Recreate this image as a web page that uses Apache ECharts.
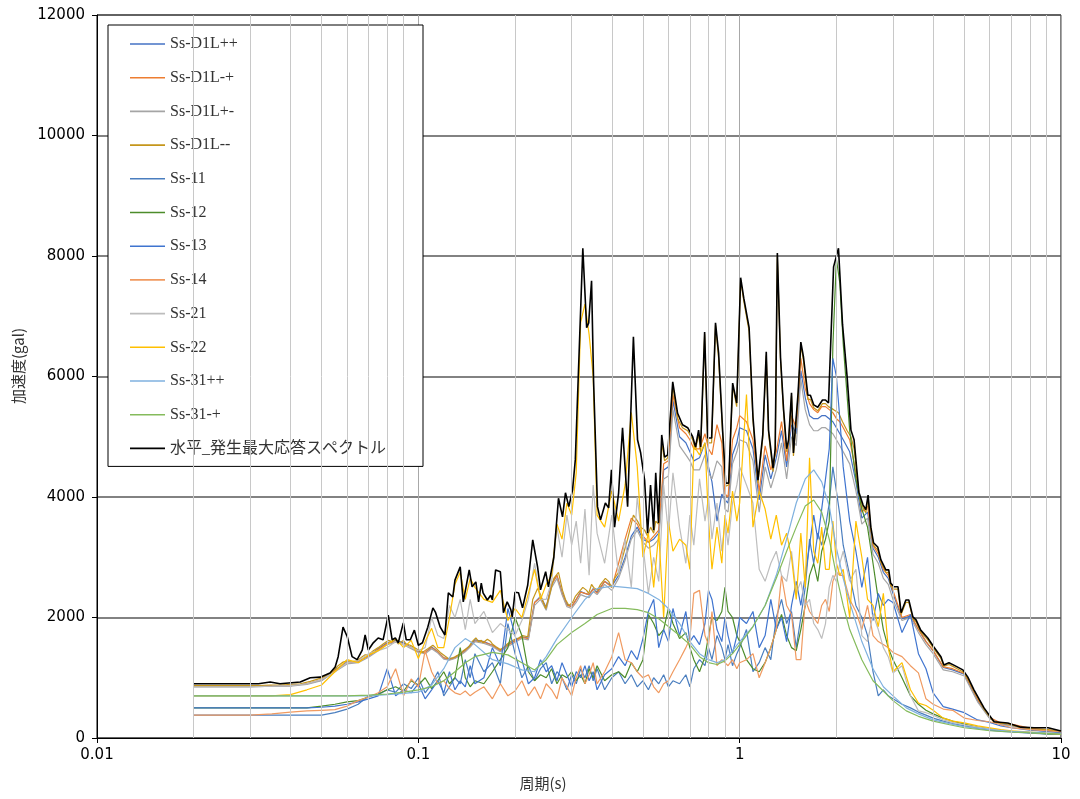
<!DOCTYPE html>
<html lang="ja">
<head>
<meta charset="utf-8">
<title>応答スペクトル</title>
<script src="https://cdn.jsdelivr.net/npm/echarts@6/dist/echarts.min.js"></script>
<style>
  html, body { margin: 0; padding: 0; background: #fff; }
  #chart { width: 1080px; height: 799px; }
</style>
</head>
<body>
<div id="chart"></div>
<script>
// 周期 (s) - 各波形で共通
const periods = [
  0.02, 0.03, 0.035, 0.04, 0.045, 0.05, 0.055, 0.06, 0.065, 0.07, 0.075, 0.08, 0.085, 0.09, 0.095, 0.1,
  0.105, 0.11, 0.115, 0.12, 0.125, 0.13, 0.135, 0.14, 0.145, 0.15,
  0.16, 0.17, 0.18, 0.19, 0.2, 0.21, 0.22, 0.23, 0.24, 0.25, 0.26, 0.27, 0.28, 0.29, 0.3, 0.31, 0.32, 0.33, 0.34, 0.35, 0.36,
  0.38, 0.4, 0.42, 0.44, 0.46, 0.48, 0.5, 0.52, 0.54, 0.56, 0.58, 0.6, 0.62,
  0.65, 0.68, 0.7, 0.72, 0.75, 0.78, 0.8, 0.82, 0.85, 0.88, 0.9, 0.92, 0.95, 0.98, 1.0,
  1.05, 1.1, 1.15, 1.2, 1.25, 1.3, 1.35, 1.4, 1.45, 1.5, 1.55, 1.6, 1.65, 1.7, 1.75, 1.8, 1.85, 1.9, 1.95, 2.0, 2.05, 2.1,
  2.2, 2.3, 2.4, 2.5, 2.6, 2.7, 2.8, 2.9, 3.0,
  3.2, 3.4, 3.6, 3.8, 4.0,
  4.3, 4.6, 5.0, 5.5, 6.0, 6.5, 7.0, 8.0, 9.0, 10
]

const d1lPP = [
  860, 860, 860, 870, 900, 960, 1130, 1260, 1270, 1360, 1480, 1580, 1620, 1580, 1500, 1440,
  1420, 1510, 1430, 1330, 1310, 1340, 1390, 1460, 1540, 1630,
  1600, 1540, 1450, 1550, 1620, 1680, 1660, 2250, 2350, 2170, 2560, 2700, 2420, 2220, 2180, 2300, 2430, 2400, 2380, 2480, 2420,
  2600, 2520, 2700, 3000, 3350, 3500, 3300, 3250, 3300, 3400, 4450, 4500, 5600,
  5000, 4900, 4750, 4600, 4650, 4900, 4500, 4250, 3600, 4050, 3950, 3900, 4700, 4900, 5150,
  5100, 4800, 3950, 4700, 4300, 4650, 5100, 4500, 5200, 5050, 6100, 5650, 5350, 5300, 5300, 5350, 5350, 5300, 5250, 5150, 5050, 4950,
  4750, 4250, 3650, 3750, 3150, 3000, 2750, 2650, 2400,
  1980, 2030, 1800, 1600, 1450,
  1170, 1130, 1060, 620, 330, 235, 210, 150, 125, 95
]
const d1lMP = [
  860, 860, 870, 870, 900, 970, 1120, 1250, 1270, 1360, 1470, 1570, 1600, 1560, 1500, 1430,
  1420, 1500, 1430, 1330, 1300, 1330, 1380, 1450, 1520, 1610,
  1590, 1540, 1450, 1540, 1610, 1670, 1650, 2250, 2330, 2150, 2550, 2700, 2400, 2200, 2180, 2300, 2420, 2400, 2380, 2470, 2400,
  2600, 2500, 2900, 3300, 3650, 3550, 3350, 3250, 3350, 3450, 4550, 4600, 5700,
  5150, 5050, 4950, 4800, 4800, 5050, 4800, 4700, 5200, 4900, 4050, 4000, 4950, 5150, 5350,
  5250, 4950, 4100, 4850, 4450, 4750, 5250, 4600, 5350, 5150, 6300, 5800, 5550, 5450, 5400, 5500, 5500, 5450, 5400, 5300, 5250, 5150,
  4950, 4400, 3750, 3850, 3200, 3050, 2800, 2700, 2450,
  2000, 2050, 1800, 1600, 1450,
  1180, 1150, 1070, 640, 340, 250, 230, 165, 135, 105
]
const d1lPM = [
  850, 850, 860, 860, 890, 950, 1100, 1230, 1250, 1340, 1450, 1550, 1590, 1550, 1480, 1420,
  1400, 1480, 1410, 1310, 1290, 1320, 1370, 1430, 1510, 1600,
  1570, 1520, 1430, 1520, 1590, 1650, 1630, 2200, 2300, 2120, 2500, 2650, 2380, 2180, 2150, 2250, 2380, 2350, 2330, 2430, 2380,
  2550, 2450, 2650, 2950, 3300, 3450, 3250, 3150, 3200, 3300, 4300, 4350, 5450,
  4850, 4700, 4600, 4450, 4450, 4700, 4400, 4300, 4600, 4500, 3800, 3750, 4550, 4750, 4950,
  4900, 4600, 3750, 4500, 4150, 4450, 4900, 4300, 5000, 4850, 5950, 5450, 5200, 5100, 5100, 5150, 5150, 5100, 5050, 4950, 4850, 4750,
  4550, 4100, 3550, 3650, 3050, 2900, 2650, 2550, 2300,
  1950, 2000, 1750, 1550, 1400,
  1130, 1100, 1030, 600, 320, 225, 200, 140, 115, 90
]
const ss11 = [
  380, 380, 380, 380, 380, 380, 420, 480, 560, 700, 720, 800, 760, 900, 820, 1000,
  750, 900, 1100, 700, 850, 1000, 900, 1300, 1000, 1400,
  1100, 1250, 900, 1900, 1400, 1000, 1200, 950, 1150, 1250, 900, 1100, 1000, 800, 1050, 900, 1150, 1000, 1200, 950, 1150,
  800, 1000, 1100, 900, 1050, 850, 950, 800, 1000, 900, 1050, 850, 950,
  900, 1050, 850, 1150, 1300, 1200, 1500, 1300, 1700, 1500, 1300, 1550, 1200, 1400, 1500,
  1800, 1100, 1250, 1500, 1300, 2000, 2300, 1900, 2100, 1500, 2000, 2500, 3300, 2900, 3400, 3200, 3500, 3900, 4500, 4100, 3700, 3200,
  2700, 2200, 2000, 1700, 1100, 700, 800, 700, 650,
  560, 500, 430, 380, 330,
  280, 240, 200, 160, 130, 110, 100, 80, 70, 60
]
const ss12 = [
  500, 500, 500, 500, 500, 530, 560, 600, 620, 680, 730, 800, 850, 780, 950, 880,
  1000, 820, 950, 1100, 900, 1000, 1500, 1000, 850, 950,
  900, 1100, 1300, 1500, 2000, 1700, 1100, 950, 1050, 1000, 1150, 900, 1050, 1000, 1100, 950, 1050, 900, 1150, 1000, 1200,
  950, 1050, 1100, 1000, 1250, 1100, 1300, 2050, 1900, 1700, 1800, 2150, 1900,
  1650, 1750, 1500, 1300, 1100, 1350, 1700, 2000, 1950, 2100, 2500, 2100, 2000, 1700, 1600,
  1300, 1150, 1100, 1250, 1500, 1800, 2050, 1700, 1500, 1450, 1800, 2200, 2700, 2900, 2600, 3100, 3300, 3600, 6500, 7950, 7550, 6550,
  5100, 4300, 3800, 3500, 2900, 2300, 1800, 1500, 1300,
  1000, 700, 560, 460, 400,
  330, 280, 230, 180, 150, 120, 110, 90, 70, 60
]
const ss13 = [
  500, 500, 500, 500, 500, 510, 530, 560, 600, 650, 700, 1150, 700, 800, 750, 900,
  650, 800, 950, 750, 1100, 800, 950, 850, 1200, 900,
  1000, 1500, 1200, 2150, 1700, 1300, 900, 1000, 1300, 1100, 1200, 950, 1250, 1050, 850, 1100, 1000, 1200, 950, 1100, 800,
  1050, 1150, 1350, 1200, 1450, 1300, 1650, 2100, 2300, 1500, 1800, 1600, 2150,
  1700, 2100, 1600, 1700, 1550, 1900, 2450, 2300, 1800, 1600, 2000, 1700, 1400, 1700, 2000,
  1900, 2100, 1500, 1700, 2300, 1800, 2000, 1600, 2200, 2600, 2200, 2700, 3200, 3700, 3300, 3800, 4300, 4800, 6300, 6000, 5300, 4500,
  3600, 3100, 2500, 3000, 1950, 2400, 2200, 2300, 2250,
  1750, 2050, 1400, 1150, 750,
  520, 480, 420, 300, 260, 200, 170, 130, 110, 90
]
const ss14 = [
  380, 380, 400, 430, 450, 460, 470, 530, 620, 680, 750, 850, 1150, 700, 980, 850,
  1450, 1100, 900, 950, 820, 750, 720, 780, 700, 760,
  850, 650, 900, 700, 780, 950, 700, 850, 650, 900, 800, 650, 1000, 850, 700, 1000, 1200, 900, 1050, 1250, 900,
  1100, 1350, 1750, 1300, 1250, 1100, 1000, 1050, 850, 750, 900, 950, 1100,
  1300, 1500, 1650, 2400, 2450, 1700, 1550, 2100, 1200, 1300, 1250, 1200, 1300, 1150, 1250,
  1300, 1400, 1000, 1250, 1500, 1800, 2700, 2200, 2050, 1300, 1300, 2300, 2100, 2000, 1900, 2200, 2300, 2100, 2600, 2750, 2700, 2700,
  2300, 2100, 1800, 2200, 1700, 1600, 1550, 1500, 1420,
  1350, 1200, 1080, 650, 560,
  480, 460, 330, 290, 270, 220, 170, 140, 120, 100
]
const ss21 = [
  850, 850, 860, 870, 900, 970, 1100, 1250, 1280, 1400, 1450, 1500, 1600, 1550, 1500, 1450,
  1500, 2000, 1700, 1650, 2200, 2000, 2300, 1800, 2300, 1900,
  2100, 1750, 1900, 1800, 1700, 1950, 2300, 2900, 2300, 2300, 2600, 3500, 3000, 3700, 3200, 3600, 2900, 3800, 2700, 4200, 3400,
  2900, 3700, 2700, 3300, 2500, 4000, 3200, 2400, 3000, 2600, 4200, 3400, 4400,
  3500, 2900, 3700, 3200, 4300, 3600, 4000, 3300, 3900, 3100, 3600, 3200, 3900, 4200, 4500,
  4200, 3900, 2800, 2600, 2900, 3100, 2700, 2600, 3100, 2400, 2600, 2200, 2300, 1900, 1800, 1650, 1900, 2500, 2700, 2600, 2900, 3100,
  2600, 2800, 1700, 1600, 2050, 1800, 1500, 1350, 1080,
  1200, 700, 450, 420, 380,
  300, 260, 220, 180, 150, 130, 110, 90, 75, 65
]
const ss22 = [
  700, 700, 700, 720, 800, 880, 1100, 1300, 1250, 1380, 1450, 1550, 1650, 1500, 1620, 1320,
  1600, 1820, 1500, 1500, 2000, 2550, 2750, 2300, 2650, 2500,
  2300, 2250, 2450, 1950, 2150, 2000, 2400, 2800, 2300, 2550, 2700, 3550, 3300, 3900, 3700, 4400, 6900, 7200, 6700, 6000, 3700,
  3500, 4100, 3600, 4200, 5400, 4500, 3000, 3400, 2500, 3400, 2000, 3600, 3100,
  3300, 3200, 2800, 4850, 4700, 4900, 3600, 2800, 3500, 2900, 3700, 3400, 4100, 3600, 3900,
  5700, 3500, 4100, 3800, 3300, 3700, 3200, 3400, 3000, 2300, 3400, 2500, 4650, 3100, 2900, 3500, 2800, 2800, 3600, 2900, 2700, 2800,
  2000, 3600, 3000, 2300, 2200, 1850, 2400, 1500, 1100,
  1250, 800, 580, 540, 460,
  330, 280, 250, 200, 170, 140, 120, 100, 80, 70
]

// 周期 (s) - なめらかな波形 (Ss-31)
const periodsSmooth = [
  0.02, 0.04, 0.06, 0.07, 0.08, 0.09, 0.1, 0.11, 0.12, 0.13, 0.14, 0.15,
  0.17, 0.19, 0.21, 0.23, 0.25, 0.27, 0.3, 0.33, 0.36,
  0.4, 0.44, 0.48, 0.52, 0.56, 0.6, 0.65, 0.7, 0.75, 0.8, 0.85, 0.9, 0.95, 1.0,
  1.1, 1.2, 1.3, 1.4, 1.5, 1.6, 1.7, 1.8, 1.9, 2.0, 2.1, 2.2,
  2.4, 2.6, 2.8, 3.0, 3.3, 3.6, 4.0, 4.5, 5.0, 6.0, 7.0, 8.5, 10
]
const ss31PP = [
  700, 700, 700, 700, 720, 740, 760, 880, 1150, 1500, 1650, 1550,
  1300, 1230, 1130, 1100, 1350, 1650, 2000, 2300, 2480,
  2520, 2500, 2480, 2400, 2300, 2150, 1900, 1600, 1400, 1300, 1250, 1300, 1450, 1600,
  1850, 2200, 2700, 3300, 3900, 4300, 4450, 4250, 3850, 3150, 2650, 2250,
  1600, 1150, 850, 700, 500, 400, 300, 240, 190, 140, 110, 90, 75
]
const ss31MP = [
  700, 700, 700, 710, 730, 760, 800, 850, 950, 1100, 1250, 1350,
  1420, 1380, 1250, 1130, 1300, 1550, 1750, 1900, 2050,
  2150, 2150, 2130, 2080, 1980, 1850, 1700, 1550, 1350, 1250, 1220, 1280, 1400, 1550,
  1850, 2200, 2650, 3100, 3500, 3850, 3950, 3750, 3300, 2700, 2200, 1800,
  1300, 950, 780, 620, 450, 360, 280, 220, 170, 120, 100, 80, 65
]

// 水平_発生最大応答スペクトル (包絡) と Ss-D1L-- は細かい周期で読む
const envPeriods = [
  0.02, 0.0318, 0.0346, 0.0371, 0.0429, 0.0461, 0.0495, 0.0531, 0.0551, 0.0563,
  0.0583, 0.0601, 0.0622, 0.0645, 0.0669, 0.0683, 0.0699, 0.0724, 0.075, 0.0777,
  0.0806, 0.0829, 0.0848, 0.0866, 0.0898, 0.0917, 0.0944, 0.0972, 0.1, 0.103,
  0.107, 0.111, 0.113, 0.117, 0.121, 0.124, 0.128, 0.130, 0.135, 0.138,
  0.144, 0.147, 0.151, 0.154, 0.157, 0.159, 0.164, 0.168, 0.170, 0.174,
  0.180, 0.184, 0.189, 0.194, 0.196, 0.200, 0.205, 0.211, 0.219, 0.227,
  0.235, 0.240, 0.249, 0.254, 0.264, 0.273, 0.281, 0.287, 0.294, 0.302,
  0.308, 0.325, 0.334, 0.339, 0.346, 0.351, 0.361, 0.369, 0.382, 0.391,
  0.399, 0.408, 0.420, 0.432, 0.448, 0.467, 0.481, 0.492, 0.506, 0.517,
  0.528, 0.540, 0.548, 0.559, 0.572, 0.584, 0.597, 0.619, 0.641, 0.664,
  0.689, 0.714, 0.729, 0.745, 0.756, 0.778, 0.795, 0.818, 0.841, 0.860,
  0.885, 0.905, 0.924, 0.951, 0.979, 1.007, 1.03, 1.07, 1.10, 1.11,
  1.14, 1.18, 1.21, 1.23, 1.27, 1.29, 1.31, 1.34, 1.37, 1.40,
  1.42, 1.45, 1.47, 1.52, 1.55, 1.58, 1.63, 1.66, 1.70, 1.75,
  1.81, 1.85, 1.89, 1.96, 2.03, 2.09, 2.16, 2.22, 2.27, 2.35,
  2.42, 2.47, 2.51, 2.56, 2.61, 2.69, 2.75, 2.85, 2.91, 2.95,
  3.02, 3.11, 3.18, 3.29, 3.36, 3.46, 3.54, 3.66, 3.85, 4.02,
  4.23, 4.32, 4.48, 4.64, 4.95, 5.13, 5.36, 5.76, 6.19, 6.83,
  7.5, 8.24, 9.12, 10
]
const envelope = [
  900, 900, 930, 900, 930, 1000, 1010, 1080, 1180, 1350,
  1840, 1680, 1350, 1300, 1460, 1710, 1460, 1580, 1660, 1630,
  2040, 1630, 1660, 1580, 1910, 1630, 1630, 1790, 1540, 1580,
  1840, 2160, 2090, 1840, 1710, 2410, 2340, 2620, 2840, 2260,
  2790, 2510, 2590, 2260, 2570, 2410, 2290, 2370, 2290, 2790,
  2760, 2080, 2260, 2130, 2010, 2420, 2410, 2160, 2540, 3290,
  2840, 2460, 2760, 2510, 3000, 3980, 3670, 4070, 3840, 4120,
  4620, 8130, 6810, 6890, 7590, 5940, 3840, 3620, 3900, 3820,
  4450, 3500, 4070, 5150, 3840, 6660, 4950, 4730, 4280, 3400,
  4200, 3450, 4400, 3570, 5030, 4660, 4700, 5910, 5390, 5200,
  5150, 5000, 4830, 5110, 4830, 6740, 4980, 4980, 6890, 6390,
  5110, 4230, 4230, 5890, 5560, 7640, 7300, 6810, 5330, 5060,
  4280, 5030, 6410, 5110, 4480, 4800, 8050, 6320, 5450, 4800,
  4950, 5730, 4730, 5730, 6570, 6320, 5690, 5690, 5530, 5490,
  5610, 5610, 5560, 7820, 8130, 6860, 5990, 5110, 4950, 4080,
  3870, 3790, 4030, 3500, 3240, 3170, 2960, 2790, 2790, 2570,
  2510, 2510, 2080, 2290, 2290, 2010, 1960, 1790, 1660, 1510,
  1350, 1210, 1250, 1210, 1130, 1010, 800, 500, 270, 250,
  180, 170, 170, 115
]
const d1lMM = [
  870, 870, 880, 880, 900, 940, 990, 1060, 1150, 1200,
  1260, 1280, 1270, 1280, 1350, 1380, 1380, 1450, 1500, 1560,
  1620, 1600, 1640, 1560, 1620, 1560, 1540, 1500, 1460, 1420,
  1480, 1540, 1500, 1420, 1360, 1320, 1330, 1350, 1400, 1450,
  1520, 1600, 1660, 1600, 1620, 1580, 1640, 1600, 1560, 1520,
  1470, 1500, 1560, 1600, 1620, 1640, 1660, 1700, 1680, 2300,
  2480, 2380, 2150, 2300, 2650, 2750, 2450, 2300, 2200, 2250,
  2350, 2500, 2450, 2400, 2550, 2500, 2450, 2550, 2650, 2600,
  2500, 2650, 2750, 3000, 3300, 3700, 3600, 3500, 3450, 3350,
  3500, 3400, 3600, 3550, 4900, 4600, 4650, 5850, 5300, 5150,
  5100, 4950, 4780, 5050, 4750, 6700, 4900, 4900, 6850, 6300,
  5050, 4180, 4200, 5850, 5500, 7600, 7250, 6750, 5280, 5000,
  4230, 4980, 6350, 5050, 4420, 4750, 8000, 6270, 5400, 4750,
  4900, 5680, 4680, 5680, 6520, 6260, 5620, 5620, 5480, 5430,
  5550, 5550, 5500, 5450, 5400, 5250, 5100, 5000, 4800, 4050,
  3820, 3740, 3980, 3460, 3200, 3120, 2920, 2750, 2750, 2530,
  2470, 2470, 2050, 2250, 2250, 1980, 1930, 1760, 1630, 1480,
  1320, 1190, 1220, 1180, 1100, 980, 780, 480, 260, 235,
  170, 150, 140, 105
]

// 補助目盛線 (2〜9 × 10^n)
const minorPeriods = [
  0.02, 0.03, 0.04, 0.05, 0.06, 0.07, 0.08, 0.09,
  0.2, 0.3, 0.4, 0.5, 0.6, 0.7, 0.8, 0.9,
  2, 3, 4, 5, 6, 7, 8, 9
]

const pairs = (ts, vs) => ts.map((t, i) => [t, vs[i]])

const seriesList = [
  { name: 'Ss-D1L++', color: '#4472C4', data: pairs(periods, d1lPP) },
  { name: 'Ss-D1L-+', color: '#ED7D31', data: pairs(periods, d1lMP) },
  { name: 'Ss-D1L+-', color: '#A5A5A5', data: pairs(periods, d1lPM) },
  { name: 'Ss-D1L--', color: '#C5961B', data: pairs(envPeriods, d1lMM) },
  { name: 'Ss-11', color: '#4A7EBF', data: pairs(periods, ss11) },
  { name: 'Ss-12', color: '#4C8C2B', data: pairs(periods, ss12) },
  { name: 'Ss-13', color: '#3F74CF', data: pairs(periods, ss13) },
  { name: 'Ss-14', color: '#F09A60', data: pairs(periods, ss14) },
  { name: 'Ss-21', color: '#BDBDBD', data: pairs(periods, ss21) },
  { name: 'Ss-22', color: '#FFC000', data: pairs(periods, ss22) },
  { name: 'Ss-31++', color: '#7FB1DF', data: pairs(periodsSmooth, ss31PP) },
  { name: 'Ss-31-+', color: '#85BB5C', data: pairs(periodsSmooth, ss31MP) },
  { name: '水平_発生最大応答スペクトル', color: '#000000', data: pairs(envPeriods, envelope), width: 1.6 },
]

const chart = echarts.init(document.getElementById('chart'))

const option = {
  animation: false,
  grid: {
    left: 97, right: 19, top: 15, bottom: 61,
    show: true, borderColor: '#000', borderWidth: 1,
  },
  xAxis: {
    type: 'log',
    logBase: 10,
    min: 0.01,
    max: 10,
    axisLine: { show: true, lineStyle: { color: '#000', width: 1 } },
    axisTick: { show: true, length: 5, lineStyle: { color: '#000' } },
    axisLabel: {
      color: '#000', fontSize: 15, fontFamily: 'DejaVu Sans', margin: 10,
      formatter: (v) => String(+Number(v).toPrecision(3)),
    },
    splitLine: { show: true, lineStyle: { color: '#a8a8a8', width: 1 } },
  },
  yAxis: {
    type: 'value',
    min: 0,
    max: 12000,
    interval: 2000,
    axisLine: { show: true, lineStyle: { color: '#000', width: 1 } },
    axisTick: { show: true, length: 5, lineStyle: { color: '#000' } },
    axisLabel: {
      color: '#000', fontSize: 15, fontFamily: 'DejaVu Sans', margin: 12,
      formatter: (v) => String(v),
    },
    splitLine: { show: true, lineStyle: { color: '#595959', width: 1.5 } },
  },
  legend: {
    orient: 'vertical',
    left: 108,
    top: 25,
    padding: [11, 37, 10, 22],
    icon: 'rect',
    itemGap: 17.7,
    itemWidth: 35,
    itemHeight: 1.6,
    selectedMode: false,
    backgroundColor: '#fff',
    borderColor: '#000',
    borderWidth: 1,
    textStyle: {
      fontFamily: '"Liberation Serif", "Noto Sans CJK JP", serif',
      fontSize: 16,
      lineHeight: 16,
      color: '#333',
    },
    data: seriesList.map((s) => s.name),
  },
  graphic: [
    {
      type: 'text', x: 18, y: 366, rotation: Math.PI / 2,
      style: { text: '加速度(gal)', fontSize: 15, fontFamily: '"Noto Sans CJK JP"', fill: '#333', align: 'center', verticalAlign: 'middle' },
    },
    {
      type: 'text', x: 543, y: 783,
      style: { text: '周期(s)', fontSize: 15, fontFamily: '"Noto Sans CJK JP"', fill: '#333', align: 'center', verticalAlign: 'middle' },
    },
  ],
  series: [
    {
      // 補助目盛線用
      name: 'minor-grid',
      type: 'line',
      z: 1,
      data: [[1, 0]],
      symbol: 'none',
      lineStyle: { opacity: 0 },
      silent: true,
      markLine: {
        silent: true,
        symbol: ['none', 'none'],
        label: { show: false },
        lineStyle: { color: '#c8c8c8', width: 1, type: 'solid' },
        data: minorPeriods.map((p) => ({ xAxis: p })),
      },
    },
    ...seriesList.map((s) => ({
      name: s.name,
      type: 'line',
      z: 3,
      data: s.data,
      symbol: 'none',
      showSymbol: false,
      silent: true,
      lineStyle: { color: s.color, width: s.width || 1.2 },
      itemStyle: { color: s.color },
    })),
  ],
}

chart.setOption(option)
</script>
</body>
</html>
